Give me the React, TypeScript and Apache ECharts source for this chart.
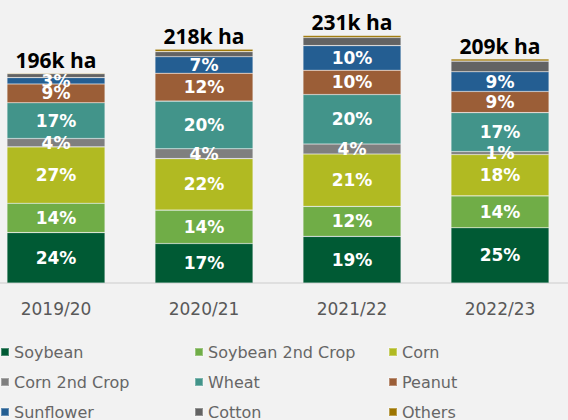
import React, { useEffect, useRef } from "react";
import * as echarts from "echarts";

const categories = ["2019/20", "2020/21", "2021/22", "2022/23"];
const seriesNames = [
  "Soybean",
  "Soybean 2nd Crop",
  "Corn",
  "Corn 2nd Crop",
  "Wheat",
  "Peanut",
  "Sunflower",
  "Cotton",
  "Others",
];
// area in thousand hectares
const soybean = [47.0, 36.8, 43.5, 51.5];
const soybean2nd = [27.4, 31.2, 28.0, 29.8];
const corn = [52.6, 48.0, 48.8, 38.5];
const corn2nd = [7.8, 9.2, 9.3, 2.8];
const wheat = [33.3, 44.5, 46.2, 36.3];
const peanut = [17.6, 26.0, 22.7, 19.8];
const sunflower = [5.9, 15.4, 22.9, 18.3];
const cotton = [3.6, 4.7, 7.6, 10.0];
const others = [0.8, 2.2, 2.0, 2.0];

const colors = [
  "#005a34",
  "#70ad47",
  "#b1ba22",
  "#7f7f7f",
  "#42948a",
  "#9b5e37",
  "#245e92",
  "#636363",
  "#9c7400",
];

const allValues = [soybean, soybean2nd, corn, corn2nd, wheat, peanut, sunflower, cotton, others];
const totals = categories.map((_, i) => allValues.reduce((s, arr) => s + arr[i], 0));

export default function App() {
  const ref = useRef<HTMLDivElement>(null);
  useEffect(() => {
    if (!ref.current) return;
    const chart = echarts.init(ref.current, null, { renderer: "svg" });
    const series = allValues.map((vals, si) => {
      const labeled = si < 7;
      const isTop = si === 8;
      return {
        name: seriesNames[si],
        type: "bar",
        stack: "total",
        barWidth: 98,
        data: vals,
        itemStyle: {
          color: colors[si],
          borderColor: "rgba(255,255,255,0.3)",
          borderWidth: 0.6,
        },
        label: labeled
          ? {
              show: true,
              position: "inside",
              color: "#ffffff",
              fontFamily: "DejaVu Sans",
              fontWeight: "bold",
              fontSize: 17,
              lineHeight: 13,
              formatter: (p: any) => Math.round((p.value / totals[p.dataIndex]) * 100) + "%",
            }
          : isTop
          ? {
              show: true,
              position: "top",
              distance: 4,
              color: "#000000",
              fontFamily: "Open Sans",
              fontWeight: "bold",
              fontSize: 21,
              lineHeight: 18,
              formatter: (p: any) => Math.round(totals[p.dataIndex]) + "k ha",
            }
          : { show: false },
      };
    });
    const legendBase = {
      orient: "vertical",
      top: 344,
      height: 120,
      padding: 0,
      itemWidth: 8,
      itemHeight: 8,
      itemGap: 14,
      icon: "rect",
      textStyle: {
        color: "#666666",
        fontFamily: "DejaVu Sans",
        fontSize: 16,
        lineHeight: 16,
      },
    };
    chart.setOption({
      animation: false,
      backgroundColor: "#f2f2f2",
      grid: {
        left: -18,
        width: 592,
        top: 15,
        bottom: 137,
        containLabel: false,
        outerBoundsMode: "none",
      },
      legend: [
        { ...legendBase, left: 0, data: ["Soybean", "Corn 2nd Crop", "Sunflower"] },
        { ...legendBase, left: 194, data: ["Soybean 2nd Crop", "Wheat", "Cotton"] },
        { ...legendBase, left: 388, data: ["Corn", "Peanut", "Others"] },
      ],
      xAxis: {
        type: "category",
        data: categories,
        axisLine: { show: true, lineStyle: { color: "#d9d9d9", width: 1.5 } },
        axisTick: { show: false },
        axisLabel: {
          color: "#595959",
          fontFamily: "DejaVu Sans",
          fontSize: 17,
          margin: 17,
        },
      },
      yAxis: {
        type: "value",
        min: 0,
        max: 250,
        show: false,
        splitLine: { show: false },
      },
      series,
    });
    return () => chart.dispose();
  }, []);
  return (
    <div
      ref={ref}
      style={{ position: "absolute", left: 0, top: 0, width: 568, height: 420 }}
    />
  );
}
